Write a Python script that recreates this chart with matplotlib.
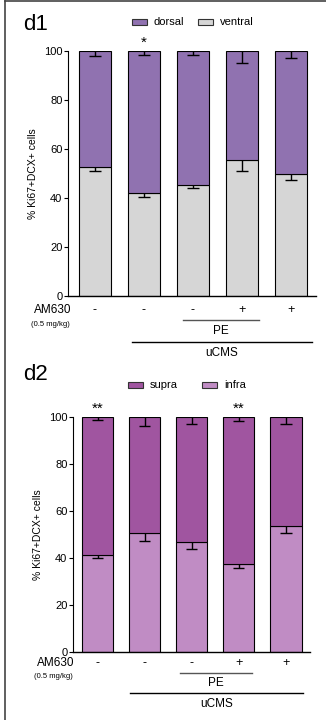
import numpy as np
import matplotlib.pyplot as plt

plt.rcParams['font.family'] = ['Liberation Sans', 'DejaVu Sans']

# d1 : dorsal / ventral
ventral = [52.8, 42.0, 45.5, 55.7, 49.8]
ventral_err = [1.8, 1.5, 1.5, 4.7, 2.5]
dorsal_err = [2.0, 1.8, 1.8, 4.8, 3.0]
# d2 : supra / infra
infra = [41.2, 50.8, 46.9, 37.6, 53.6]
infra_err = [1.2, 3.6, 3.2, 1.9, 3.1]
supra_err = [1.3, 3.7, 3.1, 1.8, 3.1]

am630 = ['-', '-', '-', '+', '+']
stars_d1 = ['', '*', '', '', '']
stars_d2 = ['**', '', '', '**', '']

W, H = 326, 720
fig = plt.figure(figsize=(W / 100, H / 100), dpi=100)

def fx(px):
    return px / W

def fy(py):
    return 1 - py / H

# frame lines at top and left
fig.add_artist(plt.Line2D([fx(5), fx(326)], [fy(1), fy(1)], color='#444444', lw=1.2))
fig.add_artist(plt.Line2D([fx(5), fx(5)], [fy(1), fy(720)], color='#444444', lw=1.2))


def panel(rect, bottom_vals, bottom_err, top_err, c_top, c_bot, names, stars,
          xlim, width, tag, tag_xy, leg_y, leg_x, ylab_x, sign_y, am_x, mg_y,
          pe_line, pe_y, u_line, u_y):
    ax = fig.add_axes(rect)
    x = np.arange(len(bottom_vals))
    bot = np.array(bottom_vals)
    top = 100 - bot
    ax.bar(x, bot, width, color=c_bot, edgecolor='black', lw=0.8, zorder=2)
    ax.bar(x, top, width, bottom=bot, color=c_top, edgecolor='black', lw=0.8, zorder=2)
    cap = width * 0.18
    # top error (downward from 100)
    t_lo = 100 - np.array(top_err)
    ax.vlines(x, t_lo, 100, color='black', lw=1, zorder=3)
    ax.hlines(t_lo, x - cap, x + cap, color='black', lw=1, zorder=3)
    b_lo = bot - np.array(bottom_err)
    ax.vlines(x, b_lo, bot, color='black', lw=1, zorder=3)
    ax.hlines(b_lo, x - cap, x + cap, color='black', lw=1, zorder=3)
    for xi, s in zip(x, stars):
        if s:
            ax.text(xi, 103.5, s, ha='center', va='center', fontsize=11,
                    clip_on=False)
    ax.set_xlim(*xlim)
    ax.set_ylim(0, 100)
    ax.set_yticks([0, 20, 40, 60, 80, 100])
    ax.tick_params(axis='y', labelsize=8, length=3, width=0.8, pad=1)
    ax.set_xticks([])
    for sp in ['top', 'right']:
        ax.spines[sp].set_visible(False)
    ax.spines['left'].set_linewidth(0.8)
    ax.spines['bottom'].set_linewidth(1)

    fig.text(fx(tag_xy[0]), fy(tag_xy[1]), tag, fontsize=16, ha='left', va='center')
    # legend
    for (px, lab, c) in zip(leg_x, names, [c_top, c_bot]):
        fig.add_artist(plt.Rectangle((fx(px), fy(leg_y + 3)), fx(15), 6 / H,
                                     facecolor=c, edgecolor='#333333', lw=0.8))
        fig.text(fx(px + 22), fy(leg_y), lab, fontsize=8, ha='left', va='center')
    fig.text(fx(ylab_x), (rect[1] + rect[1] + rect[3]) / 2, '% Ki67+DCX+ cells',
             rotation=90, fontsize=7.5, ha='center', va='center')
    # treatment rows
    xpix = [rect[0] * W + (xi - xlim[0]) / (xlim[1] - xlim[0]) * rect[2] * W for xi in x]
    for xp, s in zip(xpix, am630):
        fig.text(fx(xp), fy(sign_y), s, fontsize=9, ha='center', va='center')
    fig.text(fx(am_x), fy(sign_y), 'AM630', fontsize=8.5, ha='right', va='center')
    fig.text(fx(am_x - 1), fy(mg_y), '(0.5 mg/kg)', fontsize=5.5, ha='right', va='center')
    fig.add_artist(plt.Line2D([fx(pe_line[0]), fx(pe_line[1])], [fy(pe_line[2])] * 2,
                              color='#555555', lw=1))
    fig.text(fx((pe_line[0] + pe_line[1]) / 2), fy(pe_y), 'PE', fontsize=8.5,
             ha='center', va='center')
    fig.add_artist(plt.Line2D([fx(u_line[0]), fx(u_line[1])], [fy(u_line[2])] * 2,
                              color='black', lw=1))
    fig.text(fx((u_line[0] + u_line[1]) / 2), fy(u_y), 'uCMS', fontsize=8.5,
             ha='center', va='center')
    return ax


panel([fx(68), fy(296), 248 / W, 245 / H], ventral, ventral_err, dorsal_err,
      '#9072B0', '#D6D6D6', ['dorsal', 'ventral'], stars_d1,
      (-0.55, 4.51), 0.65, 'd1', (23, 25), 22, [132, 198], 33,
      310, 71, 325, (183, 259, 320), 331, (132, 312, 342), 353)

panel([fx(73), fy(652), 237 / W, 235 / H], infra, infra_err, supra_err,
      '#A055A0', '#C08CC4', ['supra', 'infra'], stars_d2,
      (-0.52, 4.51), 0.66, 'd2', (23, 375), 385, [128, 202], 38,
      663, 74, 677, (180, 252, 673), 683, (130, 303, 693), 704)

fig.savefig('out.png', dpi=100)
